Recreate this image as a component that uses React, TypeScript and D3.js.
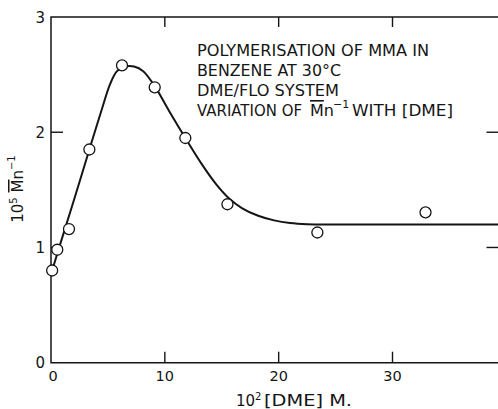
import React from "react";
import * as d3 from "d3";

const pointX = [0.1, 0.55, 1.58, 3.37, 6.24, 9.11, 11.8, 15.5, 23.4, 32.9];
const pointY = [0.8, 0.98, 1.16, 1.85, 2.58, 2.39, 1.95, 1.375, 1.13, 1.305];

const curveX = [0.1, 1.0, 2.2, 3.37, 4.5, 5.2, 5.8, 6.5, 7.3, 8.1, 9.11, 10.4, 11.8, 13.2, 14.5, 15.6, 16.8, 18.2, 19.6, 21.0, 22.5, 25.0, 39.4];
const curveY = [0.8, 1.09, 1.47, 1.85, 2.21, 2.42, 2.53, 2.57, 2.57, 2.53, 2.4, 2.18, 1.95, 1.73, 1.55, 1.43, 1.34, 1.275, 1.235, 1.212, 1.202, 1.2, 1.2];

const xTicks = [0, 10, 20, 30];
const yTicks = [0, 1, 2, 3];
const innerXTicks = [10, 20, 30];
const innerYTicks = [1, 2];

const titleLines = ["POLYMERISATION OF MMA IN", "BENZENE AT 30°C", "DME/FLO SYSTEM"];
const titleWidths = [232, 144, 142];

export default function App() {
  const x = d3.scaleLinear().domain([0, 39.4]).range([51, 499.5]);
  const y = d3.scaleLinear().domain([0, 3]).range([362.7, 17]);
  const line = d3
    .line<number>()
    .x((_, i) => x(curveX[i]))
    .y((d) => y(d))
    .curve(d3.curveCatmullRom.alpha(0.5));
  const font = "'DejaVu Sans', sans-serif";
  const ink = "#151515";
  const fs = 16;
  return (
    <svg
      width={498}
      height={409}
      style={{ position: "absolute", left: 0, top: 0, background: "#fff" }}
      fontFamily={font}
    >
      <rect x={0} y={0} width={498} height={409} fill="#fff" />
      <path
        d={`M${x(39.4)},${y(3)} L${x(0)},${y(3)} L${x(0)},${y(0)} L${x(39.4)},${y(0)}`}
        fill="none"
        stroke={ink}
        strokeWidth={1.5}
      />
      {innerXTicks.map((t) => (
        <g key={"xt" + t}>
          <line x1={x(t)} x2={x(t)} y1={y(0)} y2={y(0) - 11} stroke={ink} strokeWidth={1.4} />
          <line x1={x(t)} x2={x(t)} y1={y(3)} y2={y(3) + 10} stroke={ink} strokeWidth={1.4} />
        </g>
      ))}
      {innerYTicks.map((t) => (
        <g key={"yt" + t}>
          <line x1={x(0)} x2={x(0) + 12} y1={y(t)} y2={y(t)} stroke={ink} strokeWidth={1.4} />
          <line x1={x(39.4)} x2={x(39.4) - 13} y1={y(t)} y2={y(t)} stroke={ink} strokeWidth={1.4} />
        </g>
      ))}
      {xTicks.map((t) => (
        <text key={"xl" + t} x={x(t) + (t === 0 ? 2 : 0)} y={381} fontSize={14.5} textAnchor="middle" fill={ink}>
          {t}
        </text>
      ))}
      {yTicks.map((t) => (
        <text key={"yl" + t} x={45} y={y(t) + 5.5} fontSize={15} textAnchor="end" fill={ink}>
          {t}
        </text>
      ))}
      <path d={line(curveY) || ""} fill="none" stroke={ink} strokeWidth={2} />
      {pointX.map((px, i) => (
        <circle key={"p" + i} cx={x(px)} cy={y(pointY[i])} r={5.5} fill="#fff" stroke={ink} strokeWidth={1.3} />
      ))}
      {titleLines.map((s, i) => (
        <text
          key={"t" + i}
          x={197}
          y={56 + i * 20}
          fontSize={fs}
          fill={ink}
          textLength={titleWidths[i]}
          lengthAdjust="spacingAndGlyphs"
        >
          {s}
        </text>
      ))}
      <text x={197} y={116} fontSize={fs} fill={ink}>
        <tspan textLength={105} lengthAdjust="spacingAndGlyphs">VARIATION OF</tspan>
        <tspan x={310} textDecoration="overline">M</tspan>
        <tspan>n</tspan>
        <tspan x={333} dy={-8} fontSize={11}>−1</tspan>
        <tspan dy={8} x={352} textLength={101} lengthAdjust="spacingAndGlyphs">WITH [DME]</tspan>
      </text>
      <text x={236} y={406} fontSize={15} fill={ink}>
        <tspan>10</tspan>
        <tspan dy={-6} fontSize={10}>2</tspan>
        <tspan dy={6} x={264} textLength={88} lengthAdjust="spacingAndGlyphs">[DME] M.</tspan>
      </text>
      <text transform={`translate(23,${189}) rotate(-90)`} fontSize={15} fill={ink} textAnchor="middle">
        <tspan>10</tspan>
        <tspan dy={-6} fontSize={10}>5</tspan>
        <tspan dy={6}> </tspan>
        <tspan textDecoration="overline">M</tspan>
        <tspan>n</tspan>
        <tspan dy={-8} fontSize={10}>−1</tspan>
      </text>
    </svg>
  );
}
